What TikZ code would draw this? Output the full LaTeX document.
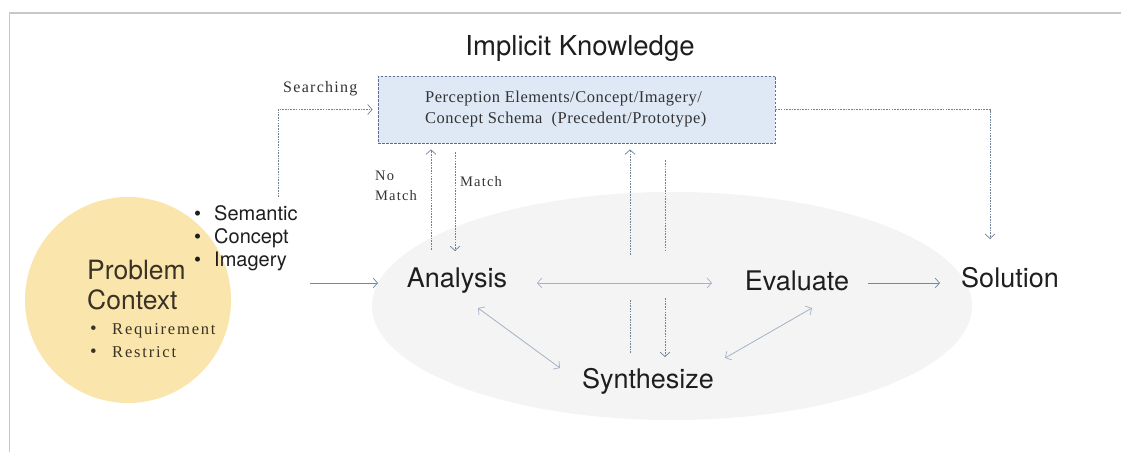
\documentclass[tikz,border=0pt]{standalone}
\usepackage{fontspec}
\setmainfont{Liberation Serif}
\setsansfont{TeX Gyre Heros}
\newfontfamily\notefont[LetterSpace=8]{Liberation Serif}
\newfontfamily\listfont[LetterSpace=11]{Liberation Serif}
\newfontfamily\boxfont[LetterSpace=3]{Liberation Serif}
\usetikzlibrary{arrows.meta}

\definecolor{framegray}{HTML}{C8C8C8}
\definecolor{boxfill}{HTML}{DFE9F6}
\definecolor{boxedge}{HTML}{5A7090}
\definecolor{procfill}{HTML}{F4F4F4}
\definecolor{ctxfill}{HTML}{FAE6AC}
\definecolor{flowblue}{HTML}{6D89AA}
\definecolor{softblue}{HTML}{A3B2C5}
\definecolor{dotgray}{HTML}{6F8199}
\definecolor{inktext}{HTML}{1E1E1E}
\definecolor{notetext}{HTML}{333333}
\definecolor{ctxtext}{HTML}{3A3224}

\tikzset{
  tip/.style={-{Straight Barb[length=4.5pt,width=10pt,line width=0.7pt]}},
  bitip/.style={{Straight Barb[length=4.5pt,width=10pt,line width=0.7pt]}-{Straight Barb[length=4.5pt,width=10pt,line width=0.7pt]}},
  dotline/.style={draw=dotgray, line width=0.75pt, dash pattern=on 1.6pt off 1.1pt},
  flow/.style={draw=flowblue, line width=0.8pt},
  soft/.style={draw=softblue, line width=0.8pt},
  stage/.style={font=\sffamily\fontsize{27}{30}\selectfont, text=inktext, inner sep=0pt},
  serifnote/.style={text=notetext, inner sep=0pt, align=left},
}

\begin{document}
\begin{tikzpicture}[x=1pt,y=-1pt]
\useasboundingbox (0,0) rectangle (1121,452);
\fill[white] (0,0) rectangle (1121,452);

% page frame
\draw[framegray, line width=1.6pt] (9.5,452) -- (9.5,13) -- (1121,13);

% process area and problem context
\fill[procfill] (672,306) ellipse [x radius=300, y radius=114];
\fill[ctxfill] (128,300) circle [radius=103];

% title and knowledge box
\node[font=\sffamily\fontsize{27.5}{30}\selectfont, text=inktext, inner sep=0pt] (title) at (580,48) {Implicit Knowledge};
\node[draw=boxedge, line width=0.8pt, dash pattern=on 2.5pt off 1.5pt, fill=boxfill,
      minimum width=397pt, minimum height=67pt, inner sep=0pt] (know) at (576.5,109.5) {};
\node[anchor=west, font=\boxfont\fontsize{16.5}{21}\selectfont, text=notetext, align=left, inner sep=0pt]
  (knowtext) at (425,109.5) {Perception Elements/Concept/Imagery/\\Concept Schema\ \ (Precedent/Prototype)};

% problem context
\node[font=\sffamily\fontsize{26.5}{30}\selectfont, text=ctxtext, align=left, inner sep=0pt, anchor=west]
  (problem) at (87,285) {Problem\\Context};
\node[font=\listfont\fontsize{16.5}{23}\selectfont, text=ctxtext, align=left, inner sep=0pt, anchor=west]
  (constraints) at (90,340.5) {\makebox[22pt][l]{\fontsize{19}{23}\selectfont•}Requirement\\\makebox[22pt][l]{\fontsize{19}{23}\selectfont•}Restrict};
\node[font=\sffamily\fontsize{20}{23}\selectfont, text=inktext, align=left, inner sep=0pt, anchor=west]
  (aspects) at (194,238) {\makebox[20pt][l]{•}Semantic\\\makebox[20pt][l]{•}Concept\\\makebox[20pt][l]{•}Imagery};

% stages
\node[stage] (analysis) at (457,281) {Analysis};
\node[stage] (evaluate) at (797,281) {Evaluate};
\node[stage] (synth) at (648,381) {Synthesize};
\node[stage] (solution) at (1010,278) {Solution};

% labels
\node[serifnote, anchor=west, font=\notefont\fontsize{16}{20}\selectfont] (searching) at (283,89) {Searching};
\node[serifnote, anchor=west, font=\notefont\fontsize{14.5}{20}\selectfont] (nomatch) at (375,186) {No\\Match};
\node[serifnote, anchor=west, font=\notefont\fontsize{14.5}{20}\selectfont] (match) at (460,182) {Match};

% connector end points
\coordinate (searchfoot) at (278,197);
\coordinate (inlet) at (310,283);
\coordinate (inletend) at (378,283);
\coordinate (nmfoot) at (431,250);
\coordinate (mfoot) at (455,251);
\coordinate (upfoot) at (630,255);
\coordinate (downfoot) at (665,252);
\coordinate (lowdash) at (630,300);
\coordinate (lowdashend) at (630,353);
\coordinate (lowdown) at (665,298);
\coordinate (lowdownend) at (665,357);
\coordinate (anR) at (537,283);
\coordinate (evL) at (712,283);
\coordinate (evR) at (868,283);
\coordinate (solL) at (940,283);
\coordinate (anSE) at (478,308);
\coordinate (syNW) at (560,368);
\coordinate (syNE) at (725,358);
\coordinate (evSW) at (812,308);
\coordinate (soltop) at (990,239);

% knowledge search and output
\draw[dotline, tip, shorten >=5pt] (searchfoot) |- (know.west);
\draw[dotline, tip] (know.east) -| (soltop);

% knowledge matching
\draw[dotline, tip, shorten >=6pt] (nmfoot) -- (nmfoot |- know.south);
\draw[dotline, tip, shorten <=9pt] (mfoot |- know.south) -- (mfoot);
\draw[dotline, tip, shorten >=6pt] (upfoot) -- (upfoot |- know.south);
\draw[dotline, shorten <=17pt] (downfoot |- know.south) -- (downfoot);
\draw[dotline] (lowdash) -- (lowdashend);
\draw[dotline, tip] (lowdown) -- (lowdownend);

% main flow
\draw[flow, tip] (inlet) -- (inletend);
\draw[soft, bitip] (anR) -- (evL);
\draw[flow, tip] (evR) -- (solL);
\draw[soft, bitip] (anSE) -- (syNW);
\draw[soft, bitip] (syNE) -- (evSW);
\end{tikzpicture}
\end{document}
